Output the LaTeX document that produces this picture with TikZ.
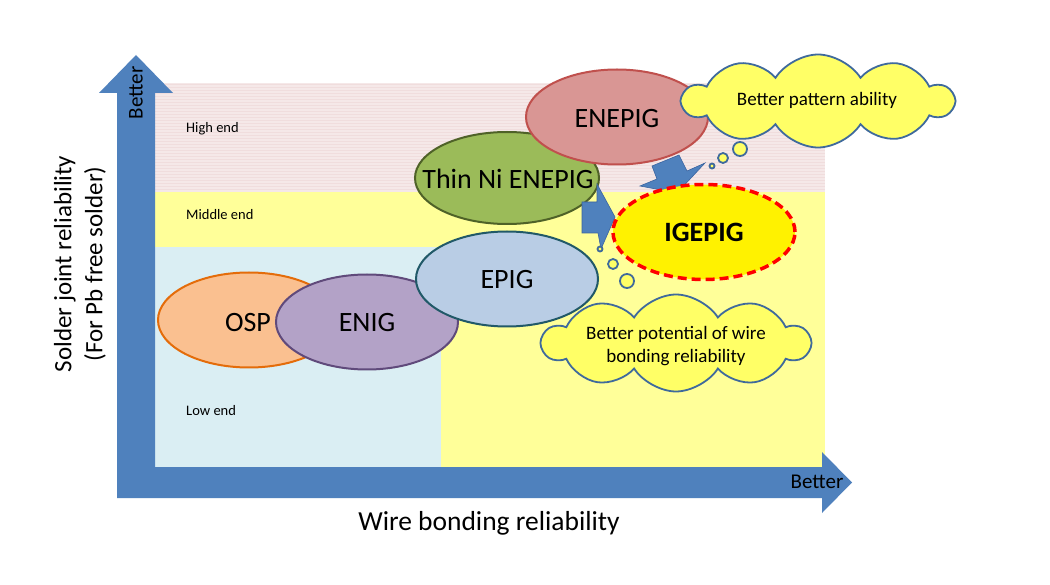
\documentclass[tikz,border=0pt]{standalone}
\usepackage{fontspec}
\setmainfont{Carlito}
\usetikzlibrary{shapes.geometric,shapes.symbols}
\definecolor{axisblue}{HTML}{4F81BD}
\definecolor{arrowline}{HTML}{3A64A0}
\definecolor{pinkbg}{HTML}{F5E8E8}
\definecolor{pinkline}{HTML}{F0DDDD}
\definecolor{yellowbg}{HTML}{FFFF99}
\definecolor{bluebg}{HTML}{DAEEF3}
\definecolor{ospfill}{HTML}{FAC090}
\definecolor{ospline}{HTML}{E46C0A}
\definecolor{enigfill}{HTML}{B3A2C7}
\definecolor{enigline}{HTML}{604A7B}
\definecolor{epigfill}{HTML}{B9CDE5}
\definecolor{epigline}{HTML}{215968}
\definecolor{thinfill}{HTML}{9BBB59}
\definecolor{thinline}{HTML}{4F6228}
\definecolor{enepigfill}{HTML}{D99694}
\definecolor{enepigline}{HTML}{C0504D}
\definecolor{cloudfill}{HTML}{FFFF66}
\definecolor{cloudline}{HTML}{3F6A9C}
\begin{document}
\begin{tikzpicture}[x=1pt,y=-1pt,
  ell/.style={ellipse, draw, line width=2pt, minimum width=182pt, minimum height=95pt, inner sep=0pt},
  big/.style={font=\fontsize{28}{32}\selectfont, inner sep=0pt},
  axislbl/.style={font=\fontsize{25}{31}\selectfont, inner sep=0pt, align=center},
  small/.style={font=\fontsize{14.5}{17}\selectfont, inner sep=0pt, anchor=west},
  note/.style={font=\fontsize{19}{23}\selectfont, inner sep=0pt, align=center},
  better/.style={font=\fontsize{21}{24}\selectfont, inner sep=0pt},
  cloudbox/.style={cloud, cloud puffs=10, cloud puff arc=115, cloud ignores aspect, draw=cloudline, fill=cloudfill, line width=1.8pt, inner sep=0pt},
  bubble/.style={circle, draw=cloudline, fill=cloudfill, line width=1.8pt, inner sep=0pt},
  blockarrow/.style={fill=axisblue, draw=arrowline, line width=0.6pt, line join=miter}
]
\useasboundingbox (0,0) rectangle (1050,585);
\fill[white] (0,0) rectangle (1050,585);
% background regions
\fill[pinkbg] (155,83) rectangle (825,192);
\foreach \yy in {84.5,87.5,...,191} \draw[pinkline, line width=0.7pt] (155,\yy) -- (825,\yy);
\fill[yellowbg] (155,192) rectangle (825,247);
\fill[yellowbg] (441,247) rectangle (825,467);
\fill[bluebg] (155,247) rectangle (441,467);
% axes
\fill[axisblue] (117,93) -- (99,93) -- (136,55) -- (173,93) -- (155,93) -- (155,467) -- (822,467) -- (822,452) -- (852,482.5) -- (822,513) -- (822,498) -- (117,498) -- cycle;
\node[better, rotate=90] (vbetter) at (136,93) {Better};
\node[better] (hbetter) at (817,482) {Better};
\node[axislbl, rotate=90] (ylab) at (80,264) {Solder joint reliability\\(For Pb free solder)};
\node[axislbl, font=\fontsize{27.5}{31}\selectfont] (xlab) at (489,523) {Wire bonding reliability};
% region labels
\node[small] (high) at (186,129) {High end};
\node[small] (mid) at (186,215) {Middle end};
\node[small] (low) at (186,411) {Low end};
% ellipses
\node[ell, draw=ospline, fill=ospfill] (OSP) at (249,320) {};
\node[big] (tOSP) at (248,323) {OSP};
\node[ell, draw=enigline, fill=enigfill] (ENIG) at (367,322) {};
\node[big] (tENIG) at (367,323) {ENIG};
\node[ell, draw=epigline, fill=epigfill] (EPIG) at (507,279) {};
\node[big] (tEPIG) at (507,280) {EPIG};
\node[ell, draw=thinline, fill=thinfill, minimum height=92pt, minimum width=184pt] (THIN) at (507,178) {};
\node[big] (tTHIN) at (508,179) {Thin Ni ENEPIG};
\node[ell, draw=enepigline, fill=enepigfill] (ENEPIG) at (617,117) {};
\node[big] (tENEPIG) at (617,119) {ENEPIG};
% block arrows
\draw[blockarrow] (652,166) -- (679,155) -- (687,171) -- (705,163) -- (677,193) -- (640,186) -- (657,179) -- cycle;
\draw[blockarrow] (582,202) -- (597,202) -- (597,184) -- (615,217) -- (601,249) -- (598,233) -- (582,233) -- cycle;
% IGEPIG
\node[ell, draw=red, fill=yellow, line width=3.5pt, dash pattern=on 9pt off 5pt] (IGEPIG) at (704,232) {};
\node[big, font=\fontsize{28}{32}\selectfont\bfseries] (tIGEPIG) at (704,232) {IGEPIG};
% thought bubbles
\node[bubble, minimum size=5pt] (u1) at (712,166) {};
\node[bubble, minimum size=10pt] (u2) at (723,158) {};
\node[bubble, minimum size=14pt] (u3) at (740,149) {};
\node[bubble, minimum size=5pt] (l1) at (600,249) {};
\node[bubble, minimum size=10pt] (l2) at (613,264) {};
\node[bubble, minimum size=14pt] (l3) at (627,281) {};
% clouds
\node[cloudbox, minimum width=270pt, minimum height=93pt] (C1) at (818,101) {};
\node[note] (tC1) at (817,100) {Better pattern ability};
\node[cloudbox, minimum width=267pt, minimum height=97pt] (C2) at (676,343) {};
\node[note] (tC2) at (676,346) {Better potential of wire\\bonding reliability};
\end{tikzpicture}
\end{document}
